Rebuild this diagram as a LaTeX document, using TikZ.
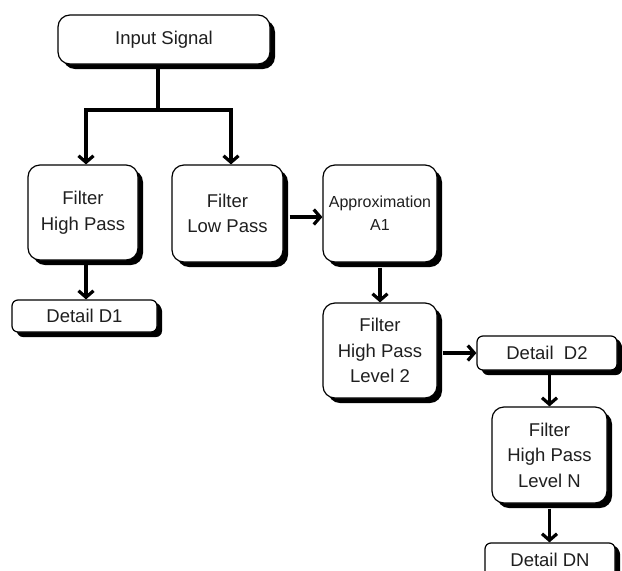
\documentclass[tikz,border=0pt]{standalone}
\usepackage{fontspec}
\setmainfont{Liberation Sans}
\usetikzlibrary{arrows.meta,shadows}

\tikzset{
  block/.style={draw=black, line width=1.2pt, fill=white, rounded corners=12pt,
    align=center, inner sep=0pt, text=black!88,
    font=\fontsize{18.5}{25.5}\selectfont,
    drop shadow={shadow xshift=5pt, shadow yshift=-5pt, fill=black, opacity=1}},
  detail/.style={block, rounded corners=6pt,
    drop shadow={shadow xshift=4pt, shadow yshift=-3pt, fill=black, opacity=1}},
  arr/.style={line width=3.2pt, -{Straight Barb[length=6.5pt,width=15pt,line width=3.2pt]}},
  wire/.style={line width=3.2pt}
}

\begin{document}
\begin{tikzpicture}[x=1pt,y=-1pt]
  \useasboundingbox[fill=white] (0,0) rectangle (622,571);

  % boxes
  \node[block, minimum width=212pt, minimum height=49pt] (in) at (164,39.5) {Input Signal};
  \node[block, minimum width=110pt, minimum height=95pt] (hpa) at (83,212.5) {Filter\\High Pass};
  \node[block, minimum width=111pt, minimum height=97pt] (lp) at (227.5,213.5) {Filter\\Low Pass};
  \node[detail, minimum width=145pt, minimum height=32pt] (da) at (84.5,316) {Detail D1};
  \node[block, minimum width=114pt, minimum height=97pt,
        font=\fontsize{16}{23}\selectfont] (ap) at (380,213.5) {Approximation\\A1};
  \node[block, minimum width=114pt, minimum height=95pt] (hpb) at (380,350.5) {Filter\\High Pass\\Level 2};
  \node[detail, minimum width=140pt, minimum height=34pt] (db) at (547,353) {Detail\ \ D2};
  \node[block, minimum width=115pt, minimum height=96pt] (hpn) at (549.5,455) {Filter\\High Pass\\Level N};
  \node[detail, minimum width=130pt, minimum height=34pt] (dn) at (550,560) {Detail DN};

  % split of the input signal
  \coordinate (j) at (158,110);
  \draw[wire] (in.south -| j) -- (j);
  \draw[arr] (j) -| ([xshift=3pt]hpa.north);
  \draw[arr] (j) -| ([xshift=3.5pt]lp.north);

  % decomposition chain
  \draw[arr] ([xshift=3pt,yshift=-4pt]hpa.south) -- ([xshift=1.5pt]da.north);
  \draw[arr] ([xshift=6pt,yshift=-3.5pt]lp.east) -- ([yshift=-3.5pt]ap.west);
  \draw[arr] ([yshift=-5pt]ap.south) -- (hpb.north);
  \draw[arr] ([xshift=5pt,yshift=-2.5pt]hpb.east) -- (db.west);
  \draw[arr] ([xshift=2.5pt,yshift=-3pt]db.south) -- (hpn.north);
  \draw[arr] ([yshift=-5pt]hpn.south) -- ([xshift=-0.5pt]dn.north);
\end{tikzpicture}
\end{document}
